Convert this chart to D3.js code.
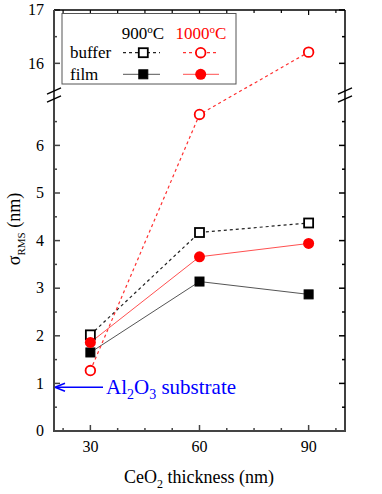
<!DOCTYPE html>
<html>
<head>
<meta charset="utf-8">
<script src="https://cdn.jsdelivr.net/npm/d3@7"></script>
<style>
  body { margin: 0; background: #fff; }
</style>
</head>
<body>
<div id="chart"></div>
<script>
// CeO2 thickness (nm)
var thickness = [30, 60, 90];
// sigma RMS (nm)
var buffer900 = [2.02, 4.17, 4.37];
var film900 = [1.65, 3.14, 2.87];
var buffer1000 = [1.27, 6.65, 16.21];
var film1000 = [1.86, 3.66, 3.94];
var substrate = 0.92;

var xTicks = [22.5, 30, 37.5, 45, 52.5, 60, 67.5, 75, 82.5, 90, 97.5];
var xLabels = [30, 60, 90];
var yLowTicks = [0, 0.5, 1, 1.5, 2, 2.5, 3, 3.5, 4, 4.5, 5, 5.5, 6, 6.5];
var yLowLabels = [0, 1, 2, 3, 4, 5, 6];
var yHighTicks = [16, 16.5, 17];
var yHighLabels = [16, 17];

var W = 382, H = 494;
var mLeft = 54, mRight = 345, mTop = 10, mBottom = 431;

var svg = d3.select("#chart").append("svg")
  .attr("width", W).attr("height", H)
  .attr("font-family", "'Liberation Serif', 'DejaVu Serif', 'Times New Roman', serif")
  .style("font-family", "'Liberation Serif', 'DejaVu Serif', 'Times New Roman', serif");

var x = d3.scaleLinear().domain([20, 100]).range([mLeft, mRight]);
// broken y axis: two segments
var yLow = d3.scaleLinear().domain([0, 7]).range([mBottom, 97.8]);
var yHigh = d3.scaleLinear().domain([15.5, 17]).range([90, mTop]);
function y(v) { return v <= 7 ? yLow(v) : yHigh(v); }

function isMajor(v, list) { return list.indexOf(v) >= 0; }

// x axes (bottom and top), inward ticks
var gx = svg.append("g").attr("transform", "translate(0," + mBottom + ")");
xTicks.forEach(function(t) {
  var len = isMajor(t, xLabels) ? 6 : 3;
  gx.append("line").attr("x1", x(t)).attr("x2", x(t)).attr("y1", 0).attr("y2", -len)
    .attr("stroke", "#444").attr("stroke-width", 1.5);
});
xLabels.forEach(function(t) {
  gx.append("text").attr("x", x(t)).attr("y", 21).attr("text-anchor", "middle")
    .attr("font-size", 16).text(t);
});
var gxt = svg.append("g").attr("transform", "translate(0," + mTop + ")");
xTicks.forEach(function(t) {
  var len = isMajor(t, xLabels) ? 5 : 3;
  gxt.append("line").attr("x1", x(t)).attr("x2", x(t)).attr("y1", 0).attr("y2", len)
    .attr("stroke", "#000").attr("stroke-width", 1.2);
});

// y axes: left with labels, right without
function yTicks(g, scale, ticks, labels, dir, showLabels, color) {
  ticks.forEach(function(t) {
    var len = isMajor(t, labels) ? 6 : 3;
    g.append("line").attr("x1", 0).attr("x2", dir * len)
      .attr("y1", scale(t)).attr("y2", scale(t))
      .attr("stroke", color).attr("stroke-width", 1.5);
  });
  if (showLabels) {
    labels.forEach(function(t) {
      g.append("text").attr("x", -10).attr("y", scale(t)).attr("dy", "0.33em")
        .attr("text-anchor", "end").attr("font-size", 16).text(t);
    });
  }
}
var gl = svg.append("g").attr("transform", "translate(" + mLeft + ",0)");
yTicks(gl, yLow, yLowTicks, yLowLabels, 1, true, "#444");
yTicks(gl, yHigh, yHighTicks, yHighLabels, 1, true, "#444");
var gr = svg.append("g").attr("transform", "translate(" + mRight + ",0)");
yTicks(gr, yLow, yLowTicks, yLowLabels, -1, false, "#000");
yTicks(gr, yHigh, yHighTicks, yHighLabels, -1, false, "#000");

// frame
svg.append("line").attr("x1", mLeft).attr("x2", mRight).attr("y1", mTop).attr("y2", mTop)
  .attr("stroke", "#000").attr("stroke-width", 1.5);
svg.append("line").attr("x1", mRight).attr("x2", mRight).attr("y1", mTop).attr("y2", mBottom)
  .attr("stroke", "#000").attr("stroke-width", 1.5);
svg.append("line").attr("x1", mLeft).attr("x2", mRight + 1).attr("y1", mBottom).attr("y2", mBottom)
  .attr("stroke", "#444").attr("stroke-width", 2);
svg.append("line").attr("x1", mLeft).attr("x2", mLeft).attr("y1", mTop).attr("y2", mBottom + 1)
  .attr("stroke", "#444").attr("stroke-width", 2);

// break marks
[mLeft, mRight].forEach(function(ax) {
  [91, 99].forEach(function(cy) {
    svg.append("line").attr("x1", ax - 7).attr("y1", cy + 3.2).attr("x2", ax + 7).attr("y2", cy - 3.2)
      .attr("stroke", "#000").attr("stroke-width", 1.3);
  });
});

// series
var series = [
  {vals: buffer900, color: "#222", dash: "3,3", width: 1.2, shape: "square", fill: "#fff"},
  {vals: film900, color: "#555", dash: null, width: 1, shape: "square", fill: "#000"},
  {vals: buffer1000, color: "#ff3030", dash: "3,3", width: 1.2, shape: "circle", fill: "#fff"},
  {vals: film1000, color: "#ff5050", dash: null, width: 1, shape: "circle", fill: "#ff0000"}
];

var line = d3.line().x(function(d) { return x(d[0]); }).y(function(d) { return y(d[1]); });

function marker(g, cx, cy, s) {
  if (s.shape === "square") {
    g.append("rect").attr("x", cx - 4.5).attr("y", cy - 4.5).attr("width", 9).attr("height", 9)
      .attr("fill", s.fill).attr("stroke", "#000").attr("stroke-width", s.fill === "#fff" ? 1.8 : 1);
  } else {
    g.append("circle").attr("cx", cx).attr("cy", cy).attr("r", s.fill === "#fff" ? 4.8 : 5.5)
      .attr("fill", s.fill).attr("stroke", "#ff0000").attr("stroke-width", s.fill === "#fff" ? 1.8 : 0);
  }
}

series.forEach(function(s) {
  var pts = thickness.map(function(t, i) { return [t, s.vals[i]]; });
  svg.append("path").attr("d", line(pts)).attr("fill", "none")
    .attr("stroke", s.color).attr("stroke-width", s.width)
    .attr("stroke-dasharray", s.dash);
});
var gm = svg.append("g");
series.forEach(function(s) {
  thickness.forEach(function(t, i) { marker(gm, x(t), y(s.vals[i]), s); });
});

// legend
var lg = svg.append("g");
lg.append("rect").attr("x", 62).attr("y", 13.5).attr("width", 174).attr("height", 70.5)
  .attr("fill", "#fff").attr("stroke", "#555").attr("stroke-width", 1);
lg.append("text").attr("x", 143).attr("y", 39).attr("text-anchor", "middle").attr("font-size", 17)
  .html('900<tspan dy="-6" font-size="11">o</tspan><tspan dy="6">C</tspan>');
lg.append("text").attr("x", 201).attr("y", 39).attr("text-anchor", "middle").attr("font-size", 17)
  .attr("fill", "#ff0000")
  .html('1000<tspan dy="-6" font-size="11">o</tspan><tspan dy="6">C</tspan>');
lg.append("text").attr("x", 70).attr("y", 58).attr("font-size", 17).text("buffer");
lg.append("text").attr("x", 70).attr("y", 80).attr("font-size", 17).text("film");
[[143.3, 123, 160, 0], [200.7, 183, 219, 2]].forEach(function(c) {
  [0, 1].forEach(function(r) {
    var s = series[c[3] + r];
    var cy = r === 0 ? 52.7 : 74.3;
    lg.append("line").attr("x1", c[1]).attr("x2", c[2]).attr("y1", cy).attr("y2", cy)
      .attr("stroke", s.color).attr("stroke-width", s.width).attr("stroke-dasharray", s.dash);
    marker(lg, c[0], cy, s);
  });
});

// substrate arrow
var ay = yLow(substrate);
svg.append("line").attr("x1", 103).attr("x2", mLeft + 2).attr("y1", ay).attr("y2", ay)
  .attr("stroke", "#0000ff").attr("stroke-width", 1.5);
svg.append("path")
  .attr("d", "M" + (mLeft + 1) + "," + ay + "l10,-4 M" + (mLeft + 1) + "," + ay + "l10,4")
  .attr("stroke", "#0000ff").attr("stroke-width", 1.5).attr("fill", "none");
svg.append("text").attr("x", 106).attr("y", ay + 7).attr("font-size", 21).attr("fill", "#0000ff")
  .html('Al<tspan dy="5" font-size="14">2</tspan><tspan dy="-5">O</tspan><tspan dy="5" font-size="14">3</tspan><tspan dy="-5"> substrate</tspan>');

// axis titles
svg.append("text").attr("x", 199).attr("y", 483).attr("text-anchor", "middle").attr("font-size", 18)
  .html('CeO<tspan dy="5" font-size="12">2</tspan><tspan dy="-5"> thickness (nm)</tspan>');
svg.append("text").attr("transform", "translate(20,229) rotate(-90)").attr("text-anchor", "middle")
  .attr("font-size", 18)
  .html('σ<tspan dy="5" font-size="11">RMS</tspan><tspan dy="-5"> (nm)</tspan>');
</script>
</body>
</html>
